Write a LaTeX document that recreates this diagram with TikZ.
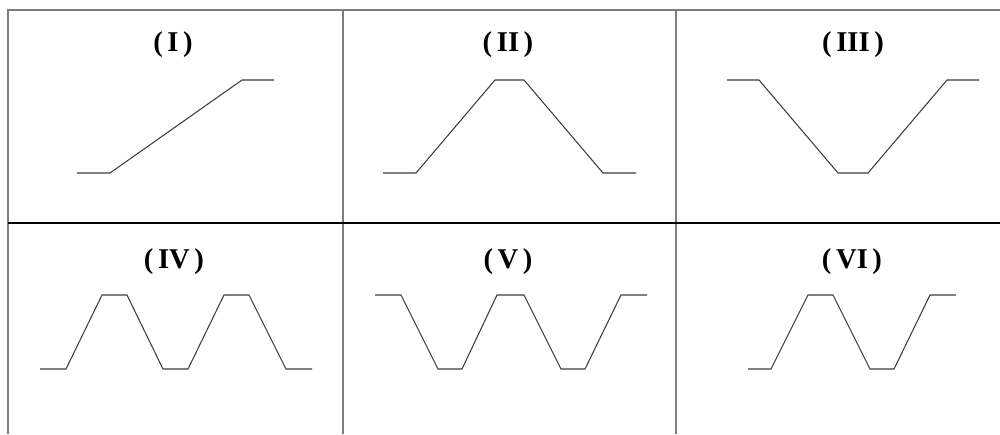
\documentclass[tikz,border=0pt]{standalone}
\usepackage{fontspec}
\setmainfont{Liberation Serif}
\usepackage{xcolor}
\definecolor{gridgray}{RGB}{125,125,125}
\definecolor{wavegray}{RGB}{60,60,60}

\tikzset{
  gridline/.style={gridgray,line width=0.6pt},
  midline/.style={black,line width=1.3pt},
  wave/.style={wavegray,line width=0.6pt,line join=miter},
  caseLabel/.style={font=\fontsize{16.3}{16}\selectfont\bfseries,inner sep=0pt}
}

\begin{document}
\begin{tikzpicture}[x=0.02cm,y=-0.02cm]
  \useasboundingbox (0,0) rectangle (1000,434);
  % table frame
  \draw[gridline] (1000,10) -- (8,10) -- (8,434);
  \draw[gridline] (343,10) -- (343,434);
  \draw[gridline] (676,10) -- (676,434);
  \draw[midline] (8,223) -- (1000,223);
  % case labels
  \foreach \x/\y/\lab/\nm in {173/45/I/labI,508/45/II/labII,853/45/III/labIII,
                              174/262/IV/labIV,508/262/V/labV,852/262/VI/labVI}{
    \node[caseLabel] (\nm) at (\x,\y) {(\kern0.16em\lab\kern0.16em)};
  }
  % upper row: low = 173, high = 80
  \draw[wave] (77,173) -- (110,173) -- (242,80) -- (274,80);
  \draw[wave] (383,173) -- (416,173) -- (495,80) -- (524,80) -- (603,173) -- (636,173);
  \draw[wave] (727,80) -- (759,80) -- (838,173) -- (868,173) -- (947,80) -- (979,80);
  % lower row: low = 369, high = 295
  \draw[wave] (40,369) -- (66,369) -- (102,295) -- (127,295) -- (163,369) -- (188,369)
              -- (224,295) -- (249,295) -- (286,369) -- (312,369);
  \draw[wave] (375,295) -- (401,295) -- (438,369) -- (462,369) -- (497,295) -- (524,295)
              -- (561,369) -- (585,369) -- (621,295) -- (647,295);
  \draw[wave] (748,369) -- (771,369) -- (808,295) -- (833,295) -- (870,369) -- (894,369)
              -- (930,295) -- (956,295);
\end{tikzpicture}
\end{document}
